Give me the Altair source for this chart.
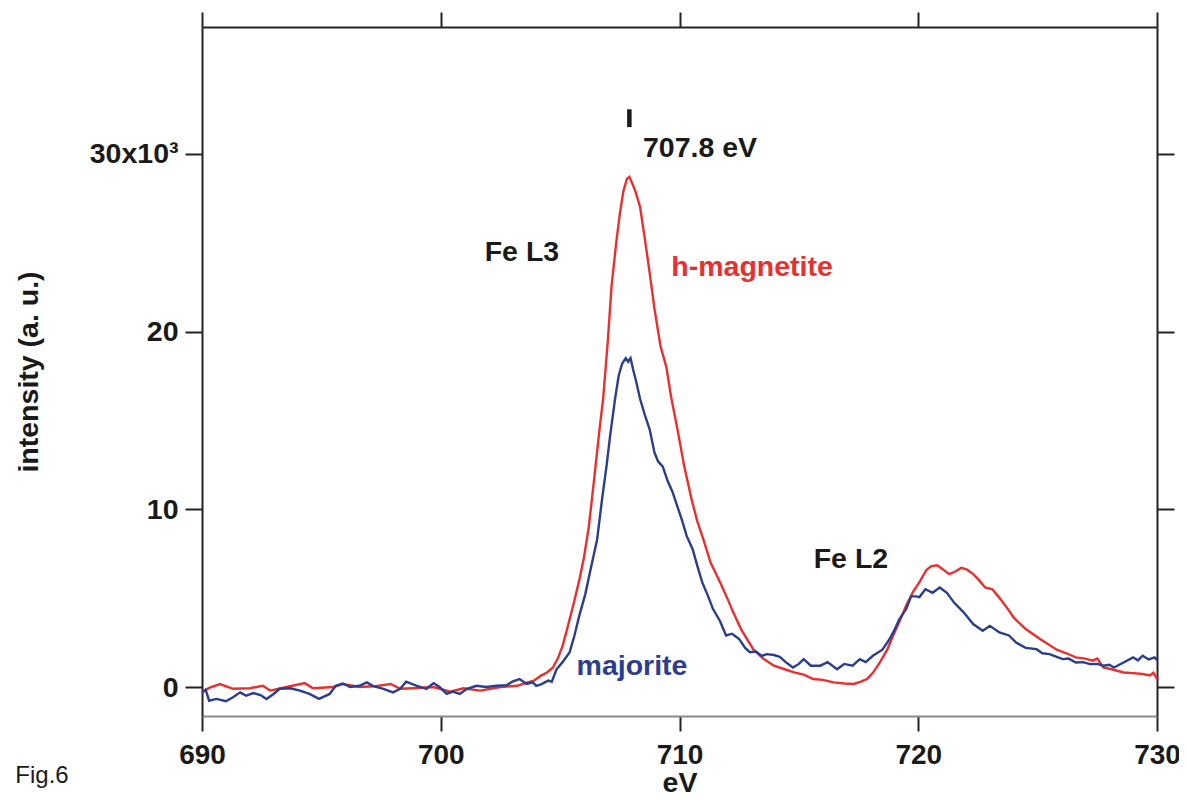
import altair as alt
import pandas as pd

# h-magnetite (red) spectrum: energy (eV), intensity (x10^3 a.u.)
red_x = [690.0, 690.3, 690.75, 691.3, 692.0, 692.55, 692.85, 693.55, 694.3, 694.65, 695.5, 695.9,
         696.6, 697.2, 697.9, 698.3, 698.85, 699.7, 700.4, 700.95, 701.65, 702.5, 703.2, 703.6,
         703.9, 704.2, 704.45, 704.7, 704.9, 705.1, 705.3, 705.55, 705.8, 706.0, 706.2, 706.45,
         706.65, 706.8, 707.0, 707.15, 707.35, 707.5, 707.65, 707.8, 707.9, 708.0, 708.15, 708.35,
         708.55, 708.75, 708.95, 709.2, 709.45, 709.65, 709.9, 710.2, 710.5, 710.75, 711.0, 711.3,
         711.7, 712.0, 712.25, 712.6, 713.1, 713.5, 713.95, 714.4, 714.8, 715.2, 715.6, 716.0,
         716.45, 716.9, 717.3, 717.6, 717.85, 718.1, 718.4, 718.7, 718.95, 719.25, 719.5, 719.8,
         720.05, 720.35, 720.55, 720.8, 721.05, 721.3, 721.55, 721.8, 722.05, 722.3, 722.55, 722.8,
         723.1, 723.35, 723.55, 723.8, 724.0, 724.5, 725.1, 725.8, 726.2, 726.6, 727.0, 727.3,
         727.5, 727.75, 728.1, 728.6, 729.0, 729.4, 729.7, 729.85, 730.0]
red_y = [-0.3, -0.05, 0.17, -0.1, -0.07, 0.07, -0.2, 0.0, 0.22, -0.07, 0.0, 0.17,
         0.0, 0.04, 0.17, -0.1, -0.07, 0.0, -0.26, -0.07, -0.2, 0.0, 0.07, 0.25,
         0.36, 0.64, 0.82, 1.1, 1.6, 2.3, 3.3, 4.6, 6.0, 7.3, 9.0, 12.0,
         14.5, 16.2, 19.5, 22.5, 25.0, 26.6, 27.9, 28.6, 28.7, 28.4, 27.9, 27.0,
         25.2, 23.3, 21.3, 19.2, 18.0, 16.3, 14.6, 12.4, 10.6, 9.3, 8.3, 7.0,
         5.9, 5.0, 4.2, 3.2, 2.1, 1.6, 1.2, 1.0, 0.82, 0.7, 0.45, 0.4,
         0.26, 0.2, 0.17, 0.3, 0.45, 0.8, 1.4, 2.1, 2.9, 3.8, 4.6, 5.4,
         5.9, 6.6, 6.8, 6.85, 6.6, 6.35, 6.5, 6.7, 6.6, 6.35, 6.0, 5.6,
         5.5, 5.1, 4.75, 4.3, 3.9, 3.26, 2.7, 2.1, 1.9, 1.67, 1.6, 1.48,
         1.6, 1.1, 1.0, 0.82, 0.78, 0.73, 0.65, 0.8, 0.45]

# majorite (blue) spectrum
blue_x = [690.0, 690.15, 690.3, 690.6, 691.0, 691.3, 691.6, 691.85, 692.15, 692.45, 692.7, 693.0,
          693.25, 693.7, 694.1, 694.5, 694.9, 695.35, 695.6, 695.9, 696.2, 696.6, 696.9, 697.15,
          697.6, 698.0, 698.3, 698.55, 699.0, 699.4, 699.7, 699.95, 700.25, 700.5, 700.8, 701.1,
          701.5, 701.9, 702.35, 702.75, 703.0, 703.3, 703.6, 703.85, 704.0, 704.2, 704.5, 704.65,
          704.85, 705.1, 705.4, 705.6, 705.8, 706.05, 706.25, 706.55, 706.75, 706.95, 707.1, 707.3,
          707.45, 707.6, 707.75, 707.85, 707.95, 708.05, 708.2, 708.35, 708.55, 708.75, 708.95, 709.1,
          709.3, 709.5, 709.7, 709.9, 710.1, 710.3, 710.55, 710.75, 710.95, 711.2, 711.4, 711.7,
          711.95, 712.2, 712.5, 712.75, 712.95, 713.2, 713.45, 713.65, 713.95, 714.2, 714.45, 714.75,
          715.0, 715.2, 715.5, 715.9, 716.2, 716.6, 716.9, 717.25, 717.55, 717.8, 718.1, 718.5,
          718.8, 719.0, 719.2, 719.5, 719.7, 719.9, 720.05, 720.3, 720.6, 720.9, 721.2, 721.5,
          721.9, 722.3, 722.7, 723.0, 723.4, 723.8, 724.1, 724.5, 724.95, 725.2, 725.5, 725.8,
          726.05, 726.3, 726.6, 726.9, 727.2, 727.5, 727.75, 728.0, 728.2, 728.6, 729.0, 729.2,
          729.4, 729.65, 729.9, 730.0]
blue_y = [-0.3, -0.15, -0.77, -0.67, -0.8, -0.58, -0.3, -0.49, -0.34, -0.45, -0.67, -0.39,
          -0.1, -0.07, -0.2, -0.39, -0.67, -0.39, 0.07, 0.2, 0.0, 0.07, 0.26, 0.07,
          -0.1, -0.3, -0.1, 0.3, 0.07, -0.1, 0.22, 0.0, -0.39, -0.26, -0.39, -0.1,
          0.07, 0.0, 0.07, 0.1, 0.3, 0.45, 0.17, 0.26, 0.07, 0.15, 0.36, 0.3,
          1.0, 1.4, 1.96, 2.9, 4.0, 5.2, 6.46, 8.3, 10.5, 12.5, 14.2, 16.2,
          17.5, 18.2, 18.5, 18.3, 18.5, 17.9, 17.1, 16.2, 15.3, 14.5, 13.2, 12.7,
          12.4, 11.6, 11.0, 10.2, 9.4, 8.5, 7.75, 6.8, 5.9, 5.1, 4.4, 3.7,
          2.9, 3.0, 2.7, 2.2, 1.96, 2.0, 1.75, 1.85, 1.8, 1.7, 1.4, 1.1,
          1.3, 1.57, 1.2, 1.2, 1.4, 1.0, 1.3, 1.2, 1.57, 1.4, 1.76, 2.1,
          2.7, 3.2, 3.8, 4.4, 5.1, 5.1, 5.06, 5.5, 5.3, 5.6, 5.3, 4.75,
          4.2, 3.54, 3.16, 3.44, 3.07, 2.9, 2.5, 2.2, 2.13, 1.9, 1.85, 1.7,
          1.57, 1.6, 1.38, 1.4, 1.29, 1.3, 1.2, 1.25, 1.1, 1.38, 1.67, 1.5,
          1.76, 1.55, 1.67, 1.5]

series_names = ["h-magnetite", "majorite"]
series_colors = ["#e8302f", "#2b3e8e"]

x_ticks = [690, 700, 710, 720, 730]
y_ticks = [0, 10, 20, 30]
x_domain = [690, 730]
y_domain = [-1.63, 37.13]

# annotations
ann_text = ["Fe L3", "h-magnetite", "707.8 eV", "Fe L2", "majorite"]
ann_x = [703.4, 713.04, 708.47, 717.18, 708.01]
ann_y = [24.49, 23.65, 30.34, 7.19, 1.18]
ann_color = ["#1a1a1a", "#e8302f", "#1a1a1a", "#1a1a1a", "#2b3e8e"]
ann_align = ["center", "center", "left", "center", "center"]

marker_x = [707.9]
marker_y = [31.5]
marker_y2 = [32.5]

fig_text = ["Fig.6"]
fig_x = [683.3]
fig_y = [-5.0]

FONT = "Liberation Sans"
FS = 28.5

df = pd.concat([
    pd.DataFrame({"E": red_x, "I": red_y, "series": series_names[0], "order": 0}),
    pd.DataFrame({"E": blue_x, "I": blue_y, "series": series_names[1], "order": 1}),
])

xscale = alt.Scale(domain=x_domain, nice=False, zero=False)
yscale = alt.Scale(domain=y_domain, nice=False, zero=False)

x_bottom = alt.X("E:Q", scale=xscale, axis=alt.Axis(
    orient="bottom", values=x_ticks, grid=False, tickSize=15, tickWidth=2, tickColor="#222",
    domainColor="#8a8a8a", domainWidth=2, labelFontSize=28, labelFontWeight="bold",
    labelColor="#1a1a1a", labelFont=FONT, labelPadding=10, labelFlush=False,
    title="eV", titleFontSize=FS, titleFontWeight="bold", titleFont=FONT, titleColor="#1a1a1a",
    titleX=477.5, titleY=66, titleBaseline="middle", titleAlign="center"))
y_left = alt.Y("I:Q", scale=yscale, axis=alt.Axis(
    orient="left", values=y_ticks, grid=False, tickSize=17, tickWidth=2, tickColor="#222",
    domainColor="#222", domainWidth=2, labelFontSize=FS, labelFontWeight="bold",
    labelColor="#1a1a1a", labelFont=FONT, labelPadding=7,
    labelExpr="datum.value == 30 ? '30x10³' : datum.label",
    title="intensity (a. u.)", titleFontSize=FS, titleFontWeight="bold", titleFont=FONT,
    titleColor="#1a1a1a", titleX=-174, titleY=344.5, titleAngle=-90,
    titleBaseline="middle", titleAlign="center"))

x_top = alt.X("E:Q", scale=xscale, axis=alt.Axis(
    orient="top", values=x_ticks, grid=False, labels=False, tickSize=15, tickWidth=2,
    tickColor="#222", domainColor="#222", domainWidth=2, title=None))
y_right = alt.Y("I:Q", scale=yscale, axis=alt.Axis(
    orient="right", values=y_ticks, grid=False, labels=False, tickSize=17, tickWidth=2,
    tickColor="#222", domainColor="#222", domainWidth=2, title=None))

color = alt.Color("series:N", scale=alt.Scale(domain=series_names, range=series_colors), legend=None)

lines = alt.Chart(df).mark_line(strokeWidth=2.4).encode(
    x=x_bottom, y=y_left, color=color, detail="series:N", order="order:Q"
)

frame = alt.Chart(df).mark_point(opacity=0).encode(x=x_top, y=y_right)


def ax(field):
    return alt.X(field, scale=xscale, axis=None)


def ay(field):
    return alt.Y(field, scale=yscale, axis=None)


ann_df = pd.DataFrame({"t": ann_text, "x": ann_x, "y": ann_y, "c": ann_color, "a": ann_align})
ann_center = alt.Chart(ann_df[ann_df.a == "center"]).mark_text(
    font=FONT, fontSize=FS, fontWeight="bold", baseline="middle", align="center"
).encode(x=ax("x:Q"), y=ay("y:Q"), text="t:N", color=alt.Color("c:N", scale=None))
ann_left = alt.Chart(ann_df[ann_df.a == "left"]).mark_text(
    font=FONT, fontSize=FS, fontWeight="bold", baseline="middle", align="left"
).encode(x=ax("x:Q"), y=ay("y:Q"), text="t:N", color=alt.Color("c:N", scale=None))

marker = alt.Chart(pd.DataFrame({"x": marker_x, "y": marker_y, "y2": marker_y2})).mark_rule(
    strokeWidth=4.5, color="#1a1a1a"
).encode(x=ax("x:Q"), y=ay("y:Q"), y2="y2:Q")

fig = alt.Chart(pd.DataFrame({"t": fig_text, "x": fig_x, "y": fig_y})).mark_text(
    font=FONT, fontSize=24, fontWeight="normal", baseline="middle", align="center", color="#1a1a1a"
).encode(x=ax("x:Q"), y=ay("y:Q"), text="t:N")

chart = alt.layer(lines, frame, ann_center, ann_left, marker, fig).properties(
    width=955, height=689,
    autosize=alt.AutoSizeParams(type="none"),
    padding={"left": 194, "top": 19, "right": 22, "bottom": 76},
).configure_view(stroke=None).configure(background="white")

chart.save("out.html", embed_options={"renderer": "svg", "actions": False})
